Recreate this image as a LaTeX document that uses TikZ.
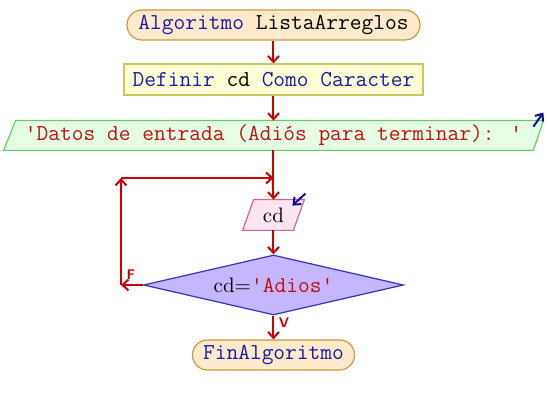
\documentclass[tikz,border=0pt]{standalone}
\usepackage{fontspec}
\usetikzlibrary{arrows.meta,shapes.geometric,backgrounds}
\definecolor{kw}{HTML}{1A1AAA}
\definecolor{str}{HTML}{C01010}
\definecolor{flowred}{HTML}{CC0000}
\definecolor{termfill}{HTML}{FFEBCB}
\definecolor{termdraw}{HTML}{CC9944}
\definecolor{deffill}{HTML}{FFFFD5}
\definecolor{defdraw}{HTML}{C8C860}
\definecolor{outfill}{HTML}{E5FFE5}
\definecolor{outdraw}{HTML}{66CC66}
\definecolor{inpfill}{HTML}{FFE5F2}
\definecolor{inpdraw}{HTML}{CC6699}
\definecolor{decfill}{HTML}{C6B6FF}
\definecolor{decdraw}{HTML}{3333BB}
\definecolor{ptrblue}{HTML}{0A0A99}
\newcommand\sq{\textquotesingle}
\begin{document}
\begin{tikzpicture}[x=0.5pt,y=-0.5pt,
  mono/.style={font=\ttfamily\fontsize{11.4}{13}\selectfont},
  term/.style={mono,draw=termdraw,fill=termfill,line width=0.6pt,rounded corners=7.5pt,inner sep=0pt,minimum height=15pt},
  defbox/.style={mono,draw=defdraw,fill=deffill,line width=0.6pt,inner sep=0pt,minimum height=15.5pt},
  ghost/.style={inner sep=0pt},
  flow/.style={draw=flowred,line width=1pt,-{Straight Barb[length=3pt,width=5.5pt]}},
  blueptr/.style={draw=ptrblue,line width=1pt,-{Straight Barb[length=3pt,width=5pt]}},
  lbl/.style={text=flowred,font=\sffamily\bfseries\fontsize{7}{8}\selectfont,inner sep=0pt},
  decbox/.style={diamond,aspect=4.3,draw=decdraw,fill=decfill,line width=0.6pt,inner sep=0pt,minimum width=130pt,minimum height=30pt}
]
\useasboundingbox (0,0) rectangle (548,405);

\node[term,minimum width=146.5pt] (start) at (273.5,25) {\textcolor{kw}{Algoritmo} ListaArreglos};
\node[defbox,minimum width=149.5pt] (def) at (273.5,79.5) {\textcolor{kw}{Definir} cd \textcolor{kw}{Como Caracter}};
\node[ghost,mono,minimum width=269.5pt,minimum height=14.5pt] (out) at (273.5,135.5) {\textcolor{str}{\sq Datos de entrada (Adiós para terminar): \sq}};
\node[ghost,minimum width=30.5pt,minimum height=15pt,font=\fontsize{10.5}{12}\selectfont] (inp) at (273.5,215) {cd};
\node[decbox] (dec) at (273.5,285) {\fontsize{10.5}{12}\selectfont cd=\textcolor{str}{\ttfamily\fontsize{11.4}{13}\selectfont\sq Adios\sq}};
\node[term,minimum width=81pt] (end) at (273.5,355) {\textcolor{kw}{FinAlgoritmo}};

\begin{scope}[on background layer]
  \draw[fill=outfill,draw=outdraw,line width=0.6pt]
    ([xshift=6pt]out.north west) -- (out.north east) -- ([xshift=-5pt]out.south east) -- (out.south west) -- cycle;
  \draw[fill=inpfill,draw=inpdraw,line width=0.6pt]
    ([xshift=5.5pt]inp.north west) -- (inp.north east) -- ([xshift=-5.5pt]inp.south east) -- (inp.south west) -- cycle;
\end{scope}

\coordinate (join) at (273.5,178);
\coordinate (cTL) at (121,178);
\coordinate (cBL) at (121,285);

\draw[flow] (start.south) -- (def.north);
\draw[flow] (def.south) -- (out.north);
\draw[flow] (out.south) -- (inp.north);
\draw[flow] (inp.south) -- (dec.north);
\draw[flow] (dec.west) -- (cBL);
\draw[flow] (cBL) -- (cTL);
\draw[flow] (cTL) -- (join);
\draw[flow] (dec.south) -- (end.north);

\node[lbl] (lblF) at (131,275) {F};
\node[lbl] (lblV) at (284,323) {V};

\draw[blueptr] ([xshift=-5pt,yshift=-3pt]out.north east) -- ([yshift=4pt]out.north east);
\draw[blueptr] ([xshift=0.5pt,yshift=3pt]inp.north east) -- ([xshift=-6pt,yshift=-3pt]inp.north east);
\end{tikzpicture}
\end{document}
